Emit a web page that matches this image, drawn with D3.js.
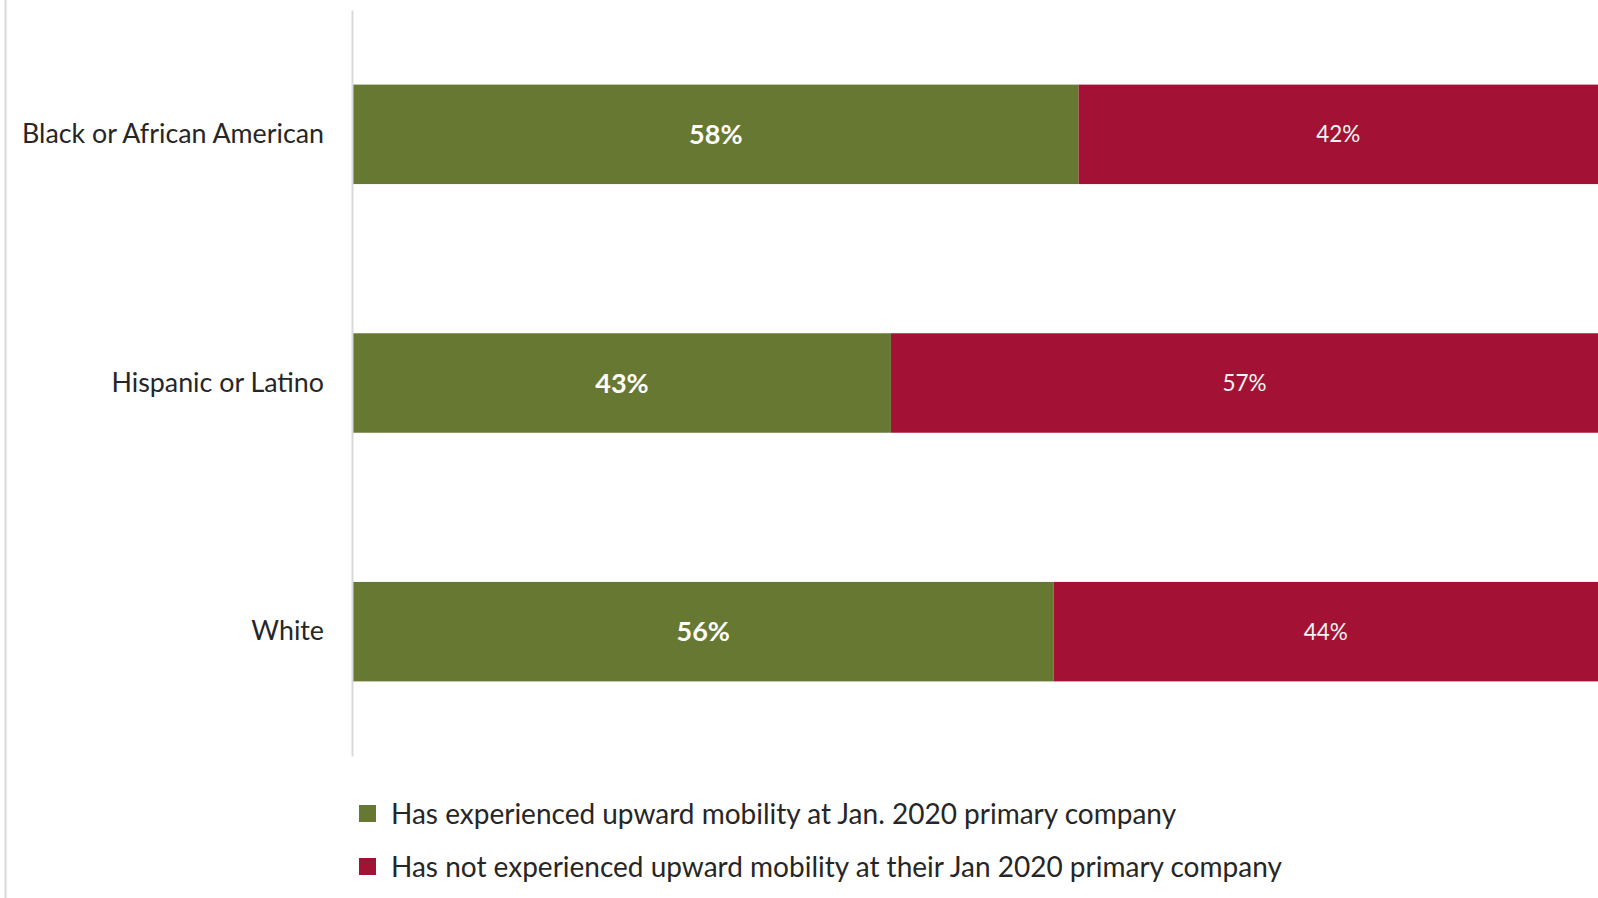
<!DOCTYPE html>
<html>
<head>
<meta charset="utf-8">
<script src="https://cdn.jsdelivr.net/npm/d3@7"></script>
<style>
  body { margin: 0; background: #fff; overflow: hidden; }
  svg { display: block; font-family: Lato, "Open Sans", sans-serif; }
</style>
</head>
<body>
<div id="chart"></div>
<script>
// categories and series (percent)
const groups = ["Black or African American", "Hispanic or Latino", "White"];
const upward = [58, 43, 56];
const notUpward = [42, 57, 44];
const seriesNames = [
  "Has experienced upward mobility at Jan. 2020 primary company",
  "Has not experienced upward mobility at their Jan 2020 primary company"
];
const seriesColors = ["#677832", "#a31234"];

const width = 1598, height = 898;

const svg = d3.select("#chart")
  .append("svg")
  .attr("width", width)
  .attr("height", height);

// scales
const x = d3.scaleLinear().domain([0, 100]).range([353, 1604]);
const y = d3.scaleBand().domain(groups).range([10, 756])
  .paddingInner(0.6).paddingOuter(0.3);

// outer left border line
svg.append("line")
  .attr("x1", 5.5).attr("x2", 5.5)
  .attr("y1", 0).attr("y2", height)
  .attr("stroke", "#d9d9d9").attr("stroke-width", 2);

// stacked data
const rows = groups.map((g, i) => ({ group: g, a: upward[i], b: notUpward[i] }));

const bar = svg.append("g").selectAll("g")
  .data(rows)
  .enter().append("g");

bar.append("rect")
  .attr("x", x(0))
  .attr("y", d => y(d.group))
  .attr("width", d => x(d.a) - x(0))
  .attr("height", y.bandwidth())
  .attr("fill", seriesColors[0]);

bar.append("rect")
  .attr("x", d => x(d.a))
  .attr("y", d => y(d.group))
  .attr("width", d => x(d.a + d.b) - x(d.a))
  .attr("height", y.bandwidth())
  .attr("fill", seriesColors[1]);

// value labels
bar.append("text")
  .attr("x", d => (x(0) + x(d.a)) / 2)
  .attr("y", d => y(d.group) + y.bandwidth() / 2)
  .attr("dy", "0.36em")
  .attr("text-anchor", "middle")
  .attr("fill", "#fff")
  .attr("font-weight", "bold")
  .attr("font-size", 27)
  .text(d => d.a + "%");

bar.append("text")
  .attr("x", d => (x(d.a) + Math.min(x(d.a + d.b), width)) / 2)
  .attr("y", d => y(d.group) + y.bandwidth() / 2)
  .attr("dy", "0.36em")
  .attr("text-anchor", "middle")
  .attr("fill", "#f2f2f2")
  .attr("font-size", 22.5)
  .text(d => d.b + "%");

// category axis
const yAxis = svg.append("g")
  .attr("transform", "translate(352,0)")
  .call(d3.axisLeft(y).tickSize(0).tickPadding(28));
yAxis.select(".domain").attr("stroke", "#d9d9d9").attr("stroke-width", 2);
yAxis.selectAll("text")
  .attr("font-family", "Lato, 'Open Sans', sans-serif")
  .attr("font-size", 26.8)
  .attr("fill", "#262626");

// legend
const legend = svg.append("g").selectAll("g")
  .data(seriesNames)
  .enter().append("g")
  .attr("transform", (d, i) => `translate(359,${805 + i * 53})`);

legend.append("rect")
  .attr("width", 17).attr("height", 17)
  .attr("fill", (d, i) => seriesColors[i]);

legend.append("text")
  .attr("x", 32)
  .attr("y", 8.5)
  .attr("dy", "0.36em")
  .attr("font-size", 28)
  .attr("fill", "#262626")
  .text(d => d);
</script>
</body>
</html>
